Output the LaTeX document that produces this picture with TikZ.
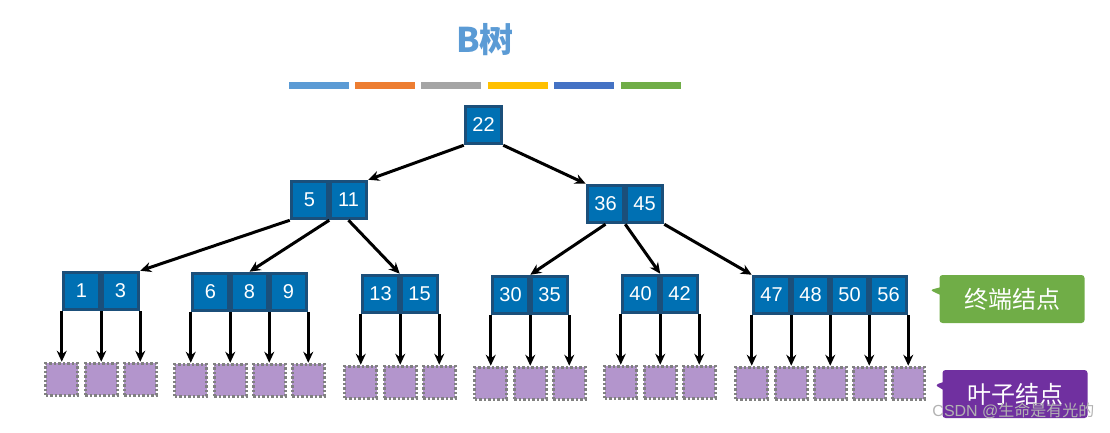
\documentclass[tikz,border=0pt]{standalone}
\usepackage{fontspec}
\setmainfont{Liberation Sans}
\newfontfamily\cjk{Noto Sans CJK SC}
\usetikzlibrary{arrows.meta,shapes.callouts,calc}
\definecolor{cellc}{HTML}{0070B3}
\definecolor{celld}{HTML}{1B4F7A}
\definecolor{leafc}{HTML}{B395CC}
\definecolor{k1}{HTML}{5B9BD5}
\definecolor{k2}{HTML}{ED7D31}
\definecolor{k3}{HTML}{A5A5A5}
\definecolor{k4}{HTML}{FFC000}
\definecolor{k5}{HTML}{4472C4}
\definecolor{k6}{HTML}{70AD47}
\definecolor{k7}{HTML}{7030A0}
\begin{document}
\begin{tikzpicture}[x=1pt,y=-1pt,
 cell/.style={draw=celld,line width=3.5pt,fill=cellc,minimum width=36pt,minimum height=37pt,inner sep=0pt,text=white,font=\fontsize{20}{20}\selectfont},
 leaf/.style={draw=gray,dash pattern=on 2.5pt off 2pt,line width=3pt,fill=leafc,minimum size=32pt,inner sep=0pt},
 edge/.style={-{Stealth[length=11pt,width=10pt]},line width=3pt},
 lbl/.style={rectangle callout,rounded corners=3pt,text=white,font=\cjk\fontsize{24}{24}\selectfont,minimum width=145pt,minimum height=48pt}]
\useasboundingbox (0,0) rectangle (1110,433);
\newcommand\mkcells[4]{% prefix, x0, ycenter, list
 \foreach \t [count=\i] in {#4}{\node[cell] (#1\i) at ({#2+39*\i-19.5},#3) {\t};}}
\node[text=k1] (title) at (485,40) {\cjk\bfseries\fontsize{34}{34}\selectfont B树};
\foreach \c/\x in {k1/289,k2/355,k3/421,k4/488,k5/554,k6/621}
 \fill[\c] (\x,82) rectangle ++(60,7);
\mkcells{r}{464}{125}{22}
\mkcells{a}{290}{200}{5,11}
\mkcells{b}{586}{204}{36,45}
\mkcells{c}{62}{291}{1,3}
\mkcells{d}{191}{292}{6,8,9}
\mkcells{e}{361}{294}{13,15}
\mkcells{f}{491}{295}{30,35}
\mkcells{g}{621}{294}{40,42}
\mkcells{h}{752}{295}{47,48,50,56}
\draw[edge] (r1.south west) -- (a2.north east);
\draw[edge] (r1.south east) -- (b1.north west);
\draw[edge] (a1.south west) -- (c2.north east);
\draw[edge] (a1.south east) -- (d2.north);
\draw[edge] (a2.south) -- (e2.north west);
\draw[edge] (b1.south) -- (f1.north east);
\draw[edge] (b1.south east) -- (g1.north east);
\draw[edge] (b2.south east) -- (h1.north west);
\foreach \p/\n in {c/2,d/3,e/2,f/2,g/2,h/4}{
 \node[leaf] (L\p0) at ($(\p1.south west)+(0,68)$) {};
 \draw[edge] (\p1.south west) -- (L\p0);
 \foreach \k in {1,...,\n}{
  \node[leaf] (L\p\k) at ($(\p\k.south east)+(0,68)$) {};
  \draw[edge] (\p\k.south east) -- (L\p\k);}}
\node[lbl,fill=k6,callout absolute pointer={(930,290)}] (term) at (1012,299) {终端结点};
\node[lbl,fill=k7,callout absolute pointer={(935,385)}] (leafl) at (1015,394) {叶子结点};
\node[text=gray!60,font=\fontsize{16}{16}\selectfont,anchor=east] (wm) at (1098,411) {CSDN @{\cjk 生命是有光的}};
\end{tikzpicture}
\end{document}
